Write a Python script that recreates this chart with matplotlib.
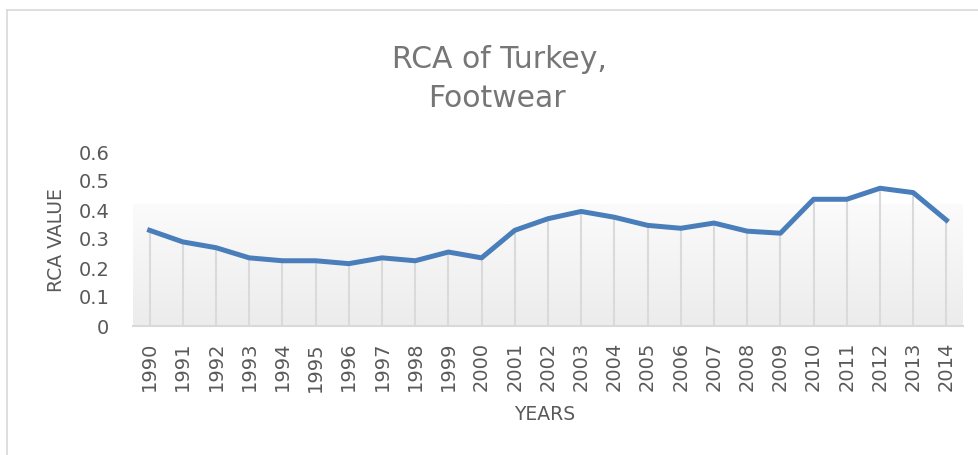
import numpy as np
import matplotlib
matplotlib.use('Agg')
import matplotlib.pyplot as plt

# data
years = [str(y) for y in range(1990, 2015)]
rca = [0.33, 0.29, 0.27, 0.235, 0.225, 0.225, 0.215, 0.235, 0.225, 0.255,
       0.235, 0.33, 0.37, 0.395, 0.375, 0.347, 0.337, 0.355, 0.327, 0.32,
       0.437, 0.437, 0.475, 0.46, 0.365]
yticks = [0, 0.1, 0.2, 0.3, 0.4, 0.5, 0.6]
ytick_labels = ['0', '0.1', '0.2', '0.3', '0.4', '0.5', '0.6']

plt.rcParams['font.family'] = ['DejaVu Sans']
grey = '#595959'

fig = plt.figure(figsize=(9.79, 4.55), dpi=100)
ax = fig.add_axes([133/979, 1-326/455, 830/979, 174/455])

x = np.arange(len(years))

# gradient backdrop (Excel style)
cm = matplotlib.colors.LinearSegmentedColormap.from_list('g', ['#ececec', '#fbfbfb'])
grad = np.linspace(0, 1, 100).reshape(-1, 1)
ax.imshow(grad, cmap=cm, extent=[0, 1, 0, 0.7], transform=ax.transAxes,
          aspect='auto', origin='lower', zorder=0)

# drop lines
ax.vlines(x, 0, rca, color='#dadada', lw=1.5, zorder=1)
ax.plot(x, rca, color='#4a7ebb', lw=3.6, solid_joinstyle='round', zorder=3)

ax.set_xlim(-0.5, len(years) - 0.5)
ax.set_ylim(0, 0.6)
ax.set_xticks(x)
ax.set_xticklabels(years, rotation=90, fontsize=14, color=grey)
ax.set_yticks(yticks)
ax.set_yticklabels(ytick_labels, fontsize=14, color=grey)
ax.tick_params(length=0)
ax.tick_params(axis='x', pad=11.5)
ax.tick_params(axis='y', pad=17)
for s in ['top', 'right', 'left']:
    ax.spines[s].set_visible(False)
ax.spines['bottom'].set_color('#d9d9d9')
ax.spines['bottom'].set_linewidth(1.5)
ax.patch.set_alpha(0)

ax.set_ylabel('RCA VALUE', fontsize=13.5, color=grey, va='center')
ax.yaxis.set_label_coords((56-133)/830, (326-240.5)/174)
ax.set_xlabel('YEARS', fontsize=13.5, color=grey, va='center')
ax.xaxis.set_label_coords(0.5 - 3/830, (326-415)/174)

# title, two lines
fig.text(499/979, 1-68/455, 'RCA of Turkey,', ha='center', va='baseline',
         fontsize=21.5, color='#767676')
fig.text(497/979, 1-107/455, 'Footwear', ha='center', va='baseline',
         fontsize=21.5, color='#767676')

# outer frame
fig.add_artist(plt.Line2D([7/979, 7/979], [0, 1-10/455], transform=fig.transFigure, color='#d9d9d9', lw=1.2))
fig.add_artist(plt.Line2D([7/979, 1], [1-10/455, 1-10/455], transform=fig.transFigure, color='#d9d9d9', lw=1.2))

fig.savefig('out.png', dpi=100)
